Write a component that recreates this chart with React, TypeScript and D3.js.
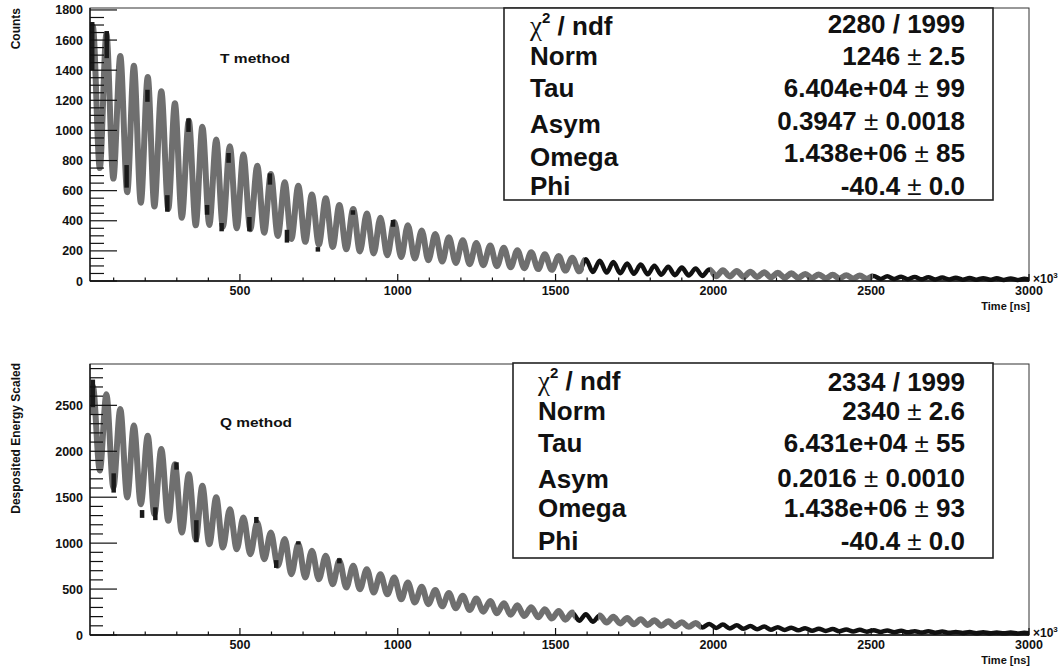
import React from "react";
import * as d3 from "d3";

const W = 1060;
const H = 669;
const FONT = "'Liberation Sans', Arial, Helvetica, sans-serif";

// ---- data ----
// times (x axis units, x10^3 ns) of each oscillation maximum and minimum
const peakTimes = [34, 77, 121, 164, 208, 251, 294, 338, 381, 425, 468, 511, 555, 598, 642, 685, 728, 772, 815, 859, 902, 945, 989, 1032, 1076, 1119, 1162, 1206, 1249, 1293, 1336, 1379, 1423, 1466, 1510, 1553, 1596, 1640, 1683, 1727, 1770, 1813, 1857, 1900, 1944, 1987, 2030, 2074, 2117, 2161, 2204, 2247, 2291, 2334, 2378, 2421, 2464, 2508, 2551, 2595, 2638, 2681, 2725, 2768, 2812, 2855, 2898, 2942, 2985];
const troughTimes = [56, 99, 143, 186, 229, 273, 316, 360, 403, 446, 490, 533, 577, 620, 663, 707, 750, 794, 837, 880, 924, 967, 1011, 1054, 1097, 1141, 1184, 1228, 1271, 1314, 1358, 1401, 1445, 1488, 1531, 1575, 1618, 1662, 1705, 1748, 1792, 1835, 1878, 1922, 1965, 2009, 2052, 2096, 2139, 2182, 2226, 2269, 2313, 2356, 2399, 2443, 2486, 2530, 2573, 2616, 2660, 2703, 2747, 2790, 2833, 2877, 2920, 2964, 3007];

// T method (Counts)
const tStart = 1550;
const tPeaks = [1690, 1640, 1495, 1430, 1355, 1260, 1180, 1065, 1025, 940, 895, 840, 765, 710, 655, 632, 575, 550, 505, 478, 448, 420, 392, 370, 335, 312, 291, 271, 253, 236, 220, 205, 191, 178, 166, 155, 145, 135, 126, 117, 109, 102, 95, 89, 83, 77, 72, 67, 62, 58, 54, 51, 47, 44, 41, 38, 36, 33, 31, 29, 27, 25, 23, 22, 20, 19, 18, 17, 15];
const tTroughs = [750, 680, 590, 520, 495, 480, 420, 370, 372, 360, 350, 344, 321, 299, 279, 260, 242, 226, 211, 196, 183, 171, 159, 149, 138, 129, 120, 112, 105, 98, 91, 85, 79, 74, 69, 64, 60, 56, 52, 48, 45, 42, 39, 37, 34, 32, 30, 28, 26, 24, 22, 21, 20, 18, 17, 16, 15, 14, 13, 12, 11, 10, 10, 9, 8, 8, 7, 7, 6];
// black data error bars visible beside the fit: [time, low, high]
const tSpikes: [number, number, number][] = [
  [32, 1400, 1720], [78, 1480, 1660], [141, 620, 770], [207, 1190, 1270], [270, 460, 570],
  [337, 990, 1080], [396, 440, 505], [442, 330, 385], [464, 785, 850], [530, 330, 425],
  [595, 640, 715], [649, 255, 340], [747, 195, 225], [858, 440, 470], [985, 360, 405],
];
const tBlackRanges: [number, number][] = [[1590, 1990], [2505, 3000]];
const tGrayRanges: [number, number][] = [[0, 1590], [1990, 2505]];

// Q method (Desposited Energy Scaled)
const qStart = 2400;
const qPeaks = [2710, 2620, 2460, 2280, 2170, 2025, 1860, 1750, 1625, 1500, 1370, 1280, 1225, 1115, 1045, 990, 917, 862, 808, 753, 717, 662, 626, 572, 526, 491, 458, 427, 398, 371, 346, 323, 301, 280, 261, 244, 227, 212, 198, 184, 172, 160, 149, 139, 130, 121, 113, 105, 98, 92, 85, 80, 74, 69, 65, 60, 56, 52, 49, 45, 42, 40, 37, 34, 32, 30, 28, 26, 24];
const qTroughs = [1790, 1605, 1497, 1424, 1315, 1243, 1116, 1043, 989, 952, 934, 880, 825, 753, 662, 626, 607, 553, 517, 498, 462, 444, 389, 354, 336, 313, 292, 272, 254, 237, 221, 206, 192, 179, 167, 156, 145, 135, 126, 118, 110, 102, 95, 89, 83, 77, 72, 67, 63, 58, 54, 51, 47, 44, 41, 38, 36, 33, 31, 29, 27, 25, 24, 22, 20, 19, 18, 17, 15];
const qSpikes: [number, number, number][] = [
  [34, 2480, 2780], [100, 1550, 1760], [190, 1275, 1360], [232, 1250, 1390], [299, 1800, 1880],
  [362, 1010, 1250], [552, 1220, 1285], [615, 730, 815], [685, 985, 1020], [815, 780, 835],
];
const qBlackRanges: [number, number][] = [[1560, 1635], [1960, 3000]];
const qGrayRanges: [number, number][] = [[0, 1560], [1635, 1960]];

// axes
const xDomain = [25, 3000];
const xTickLabels = [500, 1000, 1500, 2000, 2500, 3000];
const tYTickLabels = [0, 200, 400, 600, 800, 1000, 1200, 1400, 1600, 1800];
const qYTickLabels = [0, 500, 1000, 1500, 2000, 2500];

// statistics boxes
const statLabels = ["χ2 / ndf", "Norm", "Tau", "Asym", "Omega", "Phi"];
const tStatValues = ["2280 / 1999", "1246 ± 2.5", "6.404e+04 ± 99", "0.3947 ± 0.0018", "1.438e+06 ± 85", "-40.4 ± 0.0"];
const qStatValues = ["2334 / 1999", "2340 ± 2.6", "6.431e+04 ± 55", "0.2016 ± 0.0010", "1.438e+06 ± 93", "-40.4 ± 0.0"];

type Pt = { t: number; v: number };

function buildPoints(start: number, peaks: number[], troughs: number[]): Pt[] {
  const pts: Pt[] = [{ t: xDomain[0], v: start }];
  peakTimes.forEach((t, i) => {
    pts.push({ t, v: peaks[i] });
    pts.push({ t: troughTimes[i], v: troughs[i] });
  });
  return pts;
}

interface PanelProps {
  id: string;
  frameTop: number;
  frameBottom: number;
  yMax: number;
  yTicks: number[];
  yMinorStep: number;
  yMinorTop: number;
  yMinorLen: number;
  start: number;
  peaks: number[];
  troughs: number[];
  spikes: [number, number, number][];
  blackRanges: [number, number][];
  grayRanges: [number, number][];
  yTitle: string;
  yTitleEnd: number;
  method: string;
  methodY: number;
  methodLen: number;
  box: { x: number; y: number; w: number; h: number };
  labelX: number;
  labelBase: number[];
  valueBase: number[];
  values: string[];
}

function Panel(p: PanelProps) {
  const x = d3.scaleLinear().domain(xDomain).range([90, 1029]);
  const y = d3.scaleLinear().domain([0, p.yMax]).range([p.frameBottom, p.frameTop]);
  const pts = buildPoints(p.start, p.peaks, p.troughs);
  const line = d3
    .line<Pt>()
    .x((d) => x(d.t))
    .y((d) => y(d.v))
    .curve(d3.curveMonotoneX);
  const path = line(pts) || "";
  const x0 = x.range()[0];
  const x1 = x.range()[1];
  const fy0 = p.frameTop;
  const fy1 = p.frameBottom;

  const yMinor = d3.range(0, p.yMinorTop + 1, p.yMinorStep).filter((v) => !p.yTicks.includes(v));
  const xMinor = d3.range(100, 3000, 100).filter((v) => v % 500 !== 0);

  const clipRect = (r: [number, number], i: number) => {
    const a = Math.max(x0, x(r[0]));
    const b = Math.min(x1, x(r[1]));
    return <rect key={i} x={a} y={fy0} width={Math.max(0, b - a)} height={fy1 - fy0 + 6} />;
  };

  const renderValue = (s: string) => {
    const parts = s.split("±");
    if (parts.length === 1) return s;
    return (
      <>
        {parts[0]}
        <tspan fontWeight="normal">±</tspan>
        {parts[1]}
      </>
    );
  };

  return (
    <g>
      <defs>
        <clipPath id={`${p.id}-gray`}>{p.grayRanges.map(clipRect)}</clipPath>
        <clipPath id={`${p.id}-black`}>{p.blackRanges.map(clipRect)}</clipPath>
      </defs>

      {/* frame */}
      <rect x={x0} y={fy0} width={x1 - x0} height={fy1 - fy0} fill="none" stroke="#333" strokeWidth={1} />

      {/* data + fit */}
      <path d={path} fill="none" stroke="#6f6f6f" strokeWidth={6} strokeLinejoin="round" clipPath={`url(#${p.id}-gray)`} />
      <path d={path} fill="none" stroke="#111" strokeWidth={4.5} strokeLinejoin="round" clipPath={`url(#${p.id}-black)`} />
      {p.spikes.map((s, i) => (
        <line key={i} x1={x(s[0])} x2={x(s[0])} y1={y(s[1])} y2={y(s[2])} stroke="#1a1a1a" strokeWidth={4.5} />
      ))}

      {/* y axis */}
      <line x1={x0} x2={x0} y1={fy0} y2={fy1} stroke="#111" strokeWidth={1.3} />
      {p.yTicks.map((v) => (
        <g key={v}>
          <line x1={x0} x2={x0 + 27} y1={y(v)} y2={y(v)} stroke="#111" strokeWidth={1.2} />
          <text x={83} y={y(v)} dy="0.36em" textAnchor="end" fontFamily={FONT} fontWeight="bold" fontSize={12.5} fill="#111">
            {v}
          </text>
        </g>
      ))}
      {yMinor.map((v) => (
        <line key={v} x1={x0} x2={x0 + p.yMinorLen} y1={y(v)} y2={y(v)} stroke="#111" strokeWidth={1.2} />
      ))}

      {/* x axis */}
      <line x1={x0} x2={x1} y1={fy1} y2={fy1} stroke="#111" strokeWidth={1.3} />
      {xTickLabels.map((v) => (
        <g key={v}>
          <line x1={x(v)} x2={x(v)} y1={fy1} y2={fy1 - 7} stroke="#111" strokeWidth={1.2} />
          <text x={x(v)} y={fy1 + 14} textAnchor="middle" fontFamily={FONT} fontWeight="bold" fontSize={12.5} fill="#111">
            {v}
          </text>
        </g>
      ))}
      {xMinor.map((v) => (
        <line key={v} x1={x(v)} x2={x(v)} y1={fy1} y2={fy1 - 3.5} stroke="#111" strokeWidth={1.2} />
      ))}
      <text x={1033} y={fy1 + 2} fontFamily={FONT} fontWeight="bold" fontSize={12} fill="#111">
        ×10<tspan fontSize={8} dy={-5}>3</tspan>
      </text>
      <text x={1030} y={fy1 + 29} textAnchor="end" fontFamily={FONT} fontWeight="bold" fontSize={11} fill="#111">
        Time [ns]
      </text>

      {/* y title */}
      <text
        transform={`translate(20,${p.yTitleEnd}) rotate(-90)`}
        textAnchor="end"
        fontFamily={FONT}
        fontWeight="bold"
        fontSize={12}
        fill="#111"
      >
        {p.yTitle}
      </text>

      {/* method label */}
      <text x={220} y={p.methodY} fontFamily={FONT} fontWeight="bold" fontSize={13} fill="#111" textLength={p.methodLen} lengthAdjust="spacingAndGlyphs">
        {p.method}
      </text>

      {/* stats box */}
      <rect x={p.box.x} y={p.box.y} width={p.box.w} height={p.box.h} fill="#fff" stroke="#222" strokeWidth={1.6} />
      {statLabels.map((lab, i) => (
        <text key={lab} x={p.labelX} y={p.labelBase[i]} fontFamily={FONT} fontWeight="bold" fontSize={26} fill="#111">
          {i === 0 ? (
            <>
              <tspan fontFamily="'Liberation Serif', 'DejaVu Serif', serif" fontWeight="normal" fontSize={27}>
                χ
              </tspan>
              <tspan fontSize={15} dy={-12}>
                2
              </tspan>
              <tspan dy={12}> / ndf</tspan>
            </>
          ) : (
            lab
          )}
        </text>
      ))}
      {p.values.map((v, i) => (
        <text key={i} x={965} y={p.valueBase[i]} textAnchor="end" fontFamily={FONT} fontWeight="bold" fontSize={26} fill="#111">
          {renderValue(v)}
        </text>
      ))}
    </g>
  );
}

export default function App() {
  return (
    <svg width={W} height={H} style={{ position: "absolute", left: 0, top: 0, background: "#fff" }}>
      <rect x={0} y={0} width={W} height={H} fill="#fff" />
      <Panel
        id="tm"
        frameTop={8}
        frameBottom={281}
        yMax={1813}
        yTicks={tYTickLabels}
        yMinorStep={50}
        yMinorTop={1800}
        yMinorLen={14}
        start={tStart}
        peaks={tPeaks}
        troughs={tTroughs}
        spikes={tSpikes}
        blackRanges={tBlackRanges}
        grayRanges={tGrayRanges}
        yTitle="Counts"
        yTitleEnd={8}
        method="T method"
        methodY={63}
        methodLen={70}
        box={{ x: 504, y: 8, w: 489, h: 192 }}
        labelX={530}
        labelBase={[35, 65, 97, 133, 166, 195]}
        valueBase={[33, 65, 97, 130, 162, 195]}
        values={tStatValues}
      />
      <Panel
        id="qm"
        frameTop={364}
        frameBottom={635}
        yMax={2950}
        yTicks={qYTickLabels}
        yMinorStep={100}
        yMinorTop={2900}
        yMinorLen={13}
        start={qStart}
        peaks={qPeaks}
        troughs={qTroughs}
        spikes={qSpikes}
        blackRanges={qBlackRanges}
        grayRanges={qGrayRanges}
        yTitle="Desposited Energy Scaled"
        yTitleEnd={363}
        method="Q method"
        methodY={427}
        methodLen={72}
        box={{ x: 513, y: 363, w: 480, h: 195 }}
        labelX={538}
        labelBase={[390, 420, 452, 488, 517, 550]}
        valueBase={[391, 420, 452, 487, 517, 550]}
        values={qStatValues}
      />
    </svg>
  );
}
